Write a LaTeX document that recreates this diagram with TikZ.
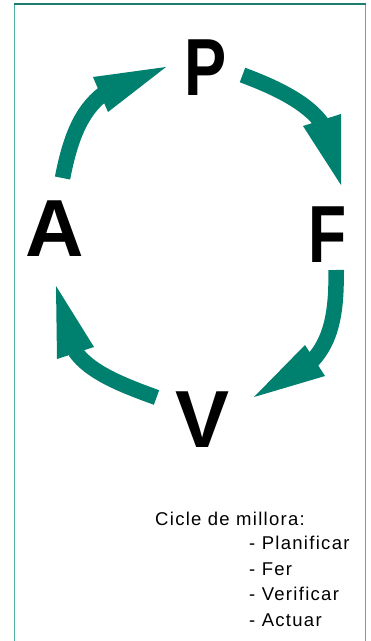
\documentclass[tikz,border=0pt]{standalone}
\usepackage{fontspec}
\setmainfont{Liberation Sans}
\newfontfamily\bigfont{Liberation Sans}
\newfontfamily\smallfont[LetterSpace=7]{Liberation Sans}
\definecolor{arrowteal}{RGB}{0,128,110}
\definecolor{frametop}{RGB}{30,125,112}
\definecolor{frameside}{RGB}{80,176,164}
\begin{document}
\begin{tikzpicture}[x=1pt,y=-1pt,
  letter/.style={inner sep=0pt, anchor=base, font=\bigfont\bfseries\fontsize{81}{81}\selectfont},
  caption/.style={inner sep=0pt, anchor=base west, font=\smallfont\fontsize{18.5}{22}\selectfont},
  shaft/.style={draw=arrowteal, line width=15.5pt, line cap=butt},
  head/.style={fill=arrowteal, draw=none}]
\useasboundingbox (0,0) rectangle (371,641);
\fill[white] (0,0) rectangle (371,641);
% frame
\draw[frameside, line width=1.6pt] (14.5,4) -- (14.5,641);
\draw[frameside, line width=1.6pt] (365.5,4) -- (365.5,641);
\draw[frametop, line width=1.6pt] (13.7,4) -- (366.3,4);
% letters
\node[letter] (P) at (205.5,95) {\scalebox{0.78}[1]{P}};
\node[letter] (F) at (328,262) {\scalebox{0.77}[1]{F}};
\node[letter] (V) at (202.5,447) {V};
\node[letter] (A) at (55,256) {A};
% arrow A -> P
\coordinate (ap0) at (62.5,178);
\coordinate (ap1) at (103,94);
\coordinate (apL) at (93,77);
\coordinate (apR) at (108,112);
\coordinate (apT) at (166,67);
\draw[shaft] (ap0) .. controls (70,140) and (80,112) .. (ap1);
\fill[head] (apL) -- (apT) -- (apR) -- cycle;
% arrow P -> F
\coordinate (pf0) at (242.5,75);
\coordinate (pf1) at (323,125);
\coordinate (pfL) at (303,126);
\coordinate (pfR) at (341,114);
\coordinate (pfT) at (341,185);
\draw[shaft] (pf0) .. controls (272,86) and (308,102) .. (pf1);
\fill[head] (pfL) -- (pfT) -- (pfR) -- cycle;
% arrow F -> V
\coordinate (fv0) at (336,270);
\coordinate (fv1) at (312,361);
\coordinate (fvL) at (305,345);
\coordinate (fvR) at (325,376);
\coordinate (fvT) at (254,397);
\draw[shaft] (fv0) .. controls (337,315) and (330,342) .. (fv1);
\fill[head] (fvL) -- (fvT) -- (fvR) -- cycle;
% arrow V -> A
\coordinate (va0) at (156.5,397.5);
\coordinate (va1) at (75,351);
\coordinate (vaL) at (57,359);
\coordinate (vaR) at (94,347);
\coordinate (vaT) at (56,286);
\draw[shaft] (va0) .. controls (125,386) and (90,373) .. (va1);
\fill[head] (vaL) -- (vaT) -- (vaR) -- cycle;
% caption
\node[caption] (c0) at (155,525) {Cicle de millora:};
\node[caption] (c1) at (249,549.5) {- Planificar};
\node[caption] (c2) at (249,575) {- Fer};
\node[caption] (c3) at (249,600.5) {- Verificar};
\node[caption] (c4) at (249,626) {- Actuar};
\end{tikzpicture}
\end{document}
